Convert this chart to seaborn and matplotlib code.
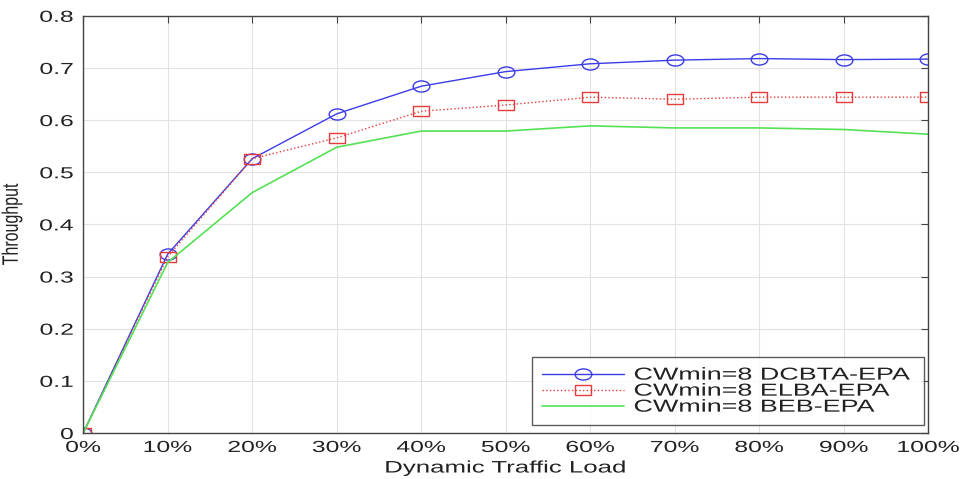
import matplotlib
matplotlib.use("Agg")
import matplotlib.pyplot as plt
import seaborn as sns
import pandas as pd
import numpy as np
from matplotlib.path import Path
from matplotlib.patheffects import AbstractPathEffect
from matplotlib.transforms import Affine2D

# valores
load = [0, 10, 20, 30, 40, 50, 60, 70, 80, 90, 100]
dcbta = [0.0, 0.343, 0.526, 0.612, 0.665, 0.693, 0.708, 0.715, 0.718, 0.716, 0.717]
elba = [0.0, 0.338, 0.526, 0.566, 0.617, 0.629, 0.644, 0.640, 0.644, 0.644, 0.644]
beb = [0.0, 0.327, 0.461, 0.548, 0.579, 0.579, 0.589, 0.585, 0.585, 0.582, 0.573]
names = ["CWmin=8 DCBTA-EPA", "CWmin=8 ELBA-EPA", "CWmin=8 BEB-EPA"]

df = pd.DataFrame({"load": load, names[0]: dcbta, names[1]: elba, names[2]: beb})

SX = 1.55  # la imagen original esta estirada a lo ancho


class Stretch(AbstractPathEffect):
    """estira el texto en x (o y) alrededor de un ancla"""
    def __init__(self, sx=1.0, sy=1.0, anchor="center"):
        super().__init__()
        self.sx, self.sy, self.anchor = sx, sy, anchor

    def draw_path(self, renderer, gc, tpath, affine, rgbFace=None):
        ext = tpath.get_extents()
        if self.anchor == "left":
            cx = 0.0
        elif self.anchor == "right":
            cx = ext.x1
        else:
            cx = (ext.x0 + ext.x1) / 2
        cy = (ext.y0 + ext.y1) / 2
        t = Affine2D().translate(-cx, -cy).scale(self.sx, self.sy).translate(cx, cy) + affine
        renderer.draw_path(gc, tpath, t, rgbFace)


# marcadores achatados (elipse y rectangulo)
circ = Path.unit_circle()
ellipse = Path(circ.vertices * np.array([1.5, 1.0]), circ.codes)
rect = Path([(-0.75, -0.5), (0.75, -0.5), (0.75, 0.5), (-0.75, 0.5), (-0.75, -0.5)],
            [Path.MOVETO, Path.LINETO, Path.LINETO, Path.LINETO, Path.CLOSEPOLY])

sns.set_style("white")
plt.rcParams["font.family"] = ["Liberation Sans", "DejaVu Sans"]

fig = plt.figure(figsize=(9.67, 4.79), dpi=100)
ax = fig.add_axes([0.086, 0.096, 0.874, 0.871])

blue = "#3c3ce6"
red = "#e63c3c"
green = "#55e055"

sns.lineplot(data=df, x="load", y=names[0], ax=ax, color=blue, lw=1.0,
             marker=ellipse, markersize=12, markerfacecolor="none",
             markeredgecolor=blue, markeredgewidth=1.0, label=names[0])
sns.lineplot(data=df, x="load", y=names[1], ax=ax, color=red, lw=1.0,
             linestyle=":", marker=rect, markersize=11, markerfacecolor="none",
             markeredgecolor=red, markeredgewidth=1.0, label=names[1])
sns.lineplot(data=df, x="load", y=names[2], ax=ax, color=green, lw=1.2,
             label=names[2])

ax.set_xlim(0, 100)
ax.set_ylim(0, 0.8)
ax.set_xticks(load)
ax.set_xticklabels([f"{v}%" for v in load])
yt = [0, 0.1, 0.2, 0.3, 0.4, 0.5, 0.6, 0.7, 0.8]
ax.set_yticks(yt)
ax.set_yticklabels(["0"] + [f"{v:.1f}" for v in yt[1:]])
ax.tick_params(direction="in", labelsize=11.5, length=5, color="#444444",
               labelcolor="#222222", top=True, right=True)
ax.tick_params(axis="x", pad=5)
ax.tick_params(axis="y", pad=7)
ax.grid(True, color="#e2e2e2", lw=0.8)
for s in ax.spines.values():
    s.set_color("#444444")
    s.set_linewidth(1.0)

xlab = ax.set_xlabel("Dynamic Traffic Load", fontsize=12, labelpad=4, color="#222222")
xlab.set_path_effects([Stretch(sx=SX)])
ylab = ax.set_ylabel("Throughput", fontsize=11.5, labelpad=23, color="#222222")
ylab.set_path_effects([Stretch(sy=1.4)])

leg = ax.legend(loc="lower left", bbox_to_anchor=(0.531, 0.019, 0.464, 0.15),
                mode="expand", fontsize=12.5, frameon=True, fancybox=False,
                edgecolor="#333333", borderpad=0.6, handlelength=4.7,
                handletextpad=0.55, labelspacing=0.05, borderaxespad=0.0)
leg.get_frame().set_linewidth(1.0)
for t in leg.get_texts():
    t.set_color("#222222")
    t.set_path_effects([Stretch(sx=SX, anchor="left")])

# las etiquetas de los ticks se crean al dibujar
fig.canvas.draw()
for tk in ax.xaxis.get_major_ticks():
    tk.label1.set_path_effects([Stretch(sx=SX)])
for tk in ax.yaxis.get_major_ticks():
    tk.label1.set_path_effects([Stretch(sx=SX, anchor="right")])

fig.savefig("out.png", dpi=100)
